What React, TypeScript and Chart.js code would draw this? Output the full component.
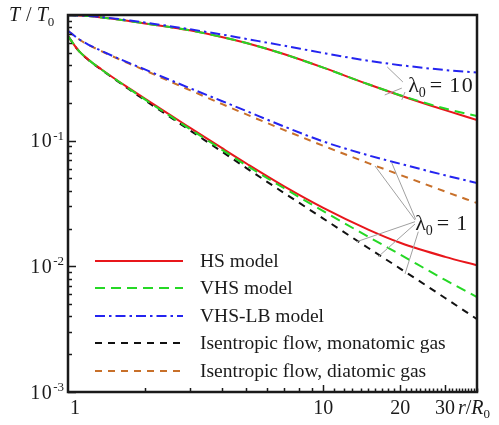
import React, { useEffect, useRef } from 'react';
import { Chart, registerables } from 'chart.js';

Chart.register(...registerables);

// r / R0 sample points
const radius = [1, 1.1, 1.2, 1.35, 1.5, 1.75, 2, 2.5, 3, 4, 5, 7, 10, 15, 20, 30, 40];

// lambda0 = 10
const hsLambda10 = [0.995, 0.99, 0.98, 0.957, 0.932, 0.892, 0.857, 0.802, 0.755, 0.669, 0.598, 0.489, 0.381, 0.281, 0.229, 0.175, 0.146];
const vhsLambda10 = [0.995, 0.99, 0.98, 0.957, 0.932, 0.892, 0.857, 0.802, 0.755, 0.669, 0.598, 0.489, 0.381, 0.281, 0.23, 0.18, 0.157];
const vhslbLambda10 = [0.997, 0.992, 0.983, 0.962, 0.94, 0.903, 0.87, 0.815, 0.77, 0.7, 0.645, 0.57, 0.498, 0.4325, 0.399, 0.365, 0.348];
// lambda0 = 1
const hsLambda1 = [0.68, 0.52, 0.443, 0.37, 0.318, 0.258, 0.216, 0.161, 0.127, 0.0875, 0.0658, 0.0435, 0.0292, 0.0196, 0.0154, 0.0119, 0.0102];
const vhsLambda1 = [0.68, 0.52, 0.442, 0.369, 0.318, 0.256, 0.213, 0.158, 0.124, 0.085, 0.0635, 0.042, 0.0275, 0.0172, 0.0124, 0.0078, 0.0057];
const vhslbLambda1 = [0.75, 0.645, 0.582, 0.519, 0.471, 0.412, 0.369, 0.305, 0.262, 0.207, 0.172, 0.13, 0.0985, 0.0765, 0.0655, 0.053, 0.046];
// isentropic flow
const isentropicMonatomic = [0.68, 0.52, 0.44, 0.367, 0.315, 0.253, 0.21, 0.155, 0.121, 0.082, 0.0605, 0.0385, 0.024, 0.014, 0.0096, 0.0056, 0.0038];
const isentropicDiatomic = [0.75, 0.644, 0.58, 0.516, 0.4675, 0.4076, 0.363, 0.297, 0.2525, 0.196, 0.1617, 0.1219, 0.091, 0.0663, 0.0534, 0.0394, 0.0319];

const legendKeys = ['hs', 'vhs', 'vhslb', 'mono', 'dia'];
const legendLabels = ['HS model', 'VHS model', 'VHS-LB model', 'Isentropic flow, monatomic gas', 'Isentropic flow, diatomic gas'];

const xTickValues = [1, 10, 20, 30];
const xTickLabels = ['1', '10', '20', '30'];
const yTickValues = [0.1, 0.01, 0.001];
const yTickExponents = ['-1', '-2', '-3'];

// leader lines (data coordinates): [fromX, fromY, toX, toY]
const leaders10 = [
  [20.5, 0.293, 17.8, 0.386],
  [20.3, 0.262, 17.4, 0.231],
  [20.9, 0.244, 20.3, 0.211],
];
const leaders1 = [
  [22.87, 0.02336, 15.94, 0.0629],
  [23.0, 0.02367, 18.53, 0.0668],
  [22.87, 0.02266, 13.51, 0.0157],
  [22.87, 0.02172, 16.42, 0.01193],
  [23.56, 0.01886, 20.89, 0.00869],
];
const label10Anchor = [21.5, 0.244];
const label1Anchor = [22.9, 0.0195];

const styles: Record<string, { color: string; dash: number[] }> = {
  hs: { color: '#e8161b', dash: [] },
  vhs: { color: '#25d825', dash: [10, 6] },
  vhslb: { color: '#2424f0', dash: [10, 4, 2.5, 4] },
  mono: { color: '#111111', dash: [7, 6] },
  dia: { color: '#c8702a', dash: [7, 6] },
};

const SERIF = "'Liberation Serif', 'Times New Roman', serif";

const seriesList: [string, number[]][] = [
  ['vhslb', vhslbLambda10],
  ['vhs', vhsLambda10],
  ['hs', hsLambda10],
  ['vhslb', vhslbLambda1],
  ['dia', isentropicDiatomic],
  ['vhs', vhsLambda1],
  ['hs', hsLambda1],
  ['mono', isentropicMonatomic],
];

const overlay = {
  id: 'overlay',
  afterDatasetsDraw(chart: any) {
    const { ctx, chartArea: a, scales } = chart;
    const xs = scales.x;
    const ys = scales.y;
    const px = (v: number) => xs.getPixelForValue(v);
    const py = (v: number) => ys.getPixelForValue(v);
    ctx.save();
    ctx.fillStyle = '#1a1a1a';
    ctx.strokeStyle = '#1a1a1a';

    // y ticks
    ctx.lineWidth = 1.5;
    for (let d = -3; d <= 0; d++) {
      for (let m = 1; m < 10; m++) {
        const v = m * Math.pow(10, d);
        if (v > 1.0001) break;
        const y = Math.round(py(v)) + 0.5;
        const len = m === 1 ? 8 : 4;
        ctx.beginPath();
        ctx.moveTo(a.left, y);
        ctx.lineTo(a.left + len, y);
        ctx.stroke();
      }
    }
    // x ticks
    for (let v = 2; v <= 40; v++) {
      const x = Math.round(px(v)) + 0.5;
      const major = v === 10 || v === 20 || v === 30;
      const len = major ? 7 : v < 10 ? 4 : 3.5;
      ctx.beginPath();
      ctx.moveTo(x, a.bottom);
      ctx.lineTo(x, a.bottom - len);
      ctx.stroke();
    }

    // frame
    ctx.lineWidth = 2.5;
    ctx.strokeRect(a.left, a.top, a.right - a.left, a.bottom - a.top);

    // y tick labels
    ctx.textAlign = 'left';
    ctx.textBaseline = 'alphabetic';
    yTickValues.forEach((v, i) => {
      const y = py(v);
      const right = 64;
      ctx.letterSpacing = '0px';
      ctx.font = `13px ${SERIF}`;
      const ew = ctx.measureText(yTickExponents[i]).width;
      ctx.font = `20px ${SERIF}`;
      ctx.letterSpacing = '1.5px';
      const bw = ctx.measureText('10').width;
      ctx.fillText('10', right - ew - bw, y + 6.5);
      ctx.letterSpacing = '0px';
      ctx.font = `13px ${SERIF}`;
      ctx.fillText(yTickExponents[i], right - ew, y - 1);
    });

    // x tick labels
    ctx.font = `20px ${SERIF}`;
    ctx.letterSpacing = '0px';
    ctx.textAlign = 'center';
    xTickValues.forEach((v, i) => {
      const x = px(v) + (i === 0 ? 7 : 0);
      ctx.fillText(xTickLabels[i], x, a.bottom + 22);
    });

    // x axis title r/R0
    ctx.textAlign = 'left';
    ctx.font = `italic 20px ${SERIF}`;
    const rx = 458;
    const rb = a.bottom + 22;
    ctx.fillText('r', rx, rb);
    let w = ctx.measureText('r').width;
    ctx.font = `20px ${SERIF}`;
    ctx.fillText('/', rx + w, rb);
    w += ctx.measureText('/').width;
    ctx.font = `italic 20px ${SERIF}`;
    ctx.fillText('R', rx + w, rb);
    w += ctx.measureText('R').width;
    ctx.font = `13px ${SERIF}`;
    ctx.fillText('0', rx + w, rb + 4);

    // y axis title T / T0
    const tx = 9;
    const tb = 21;
    ctx.font = `italic 20px ${SERIF}`;
    ctx.fillText('T', tx, tb);
    let tw = ctx.measureText('T').width + 6;
    ctx.font = `20px ${SERIF}`;
    ctx.fillText('/', tx + tw, tb);
    tw += ctx.measureText('/').width + 5;
    ctx.font = `italic 20px ${SERIF}`;
    ctx.fillText('T', tx + tw, tb);
    tw += ctx.measureText('T').width;
    ctx.font = `13px ${SERIF}`;
    ctx.fillText('0', tx + tw, tb + 5);

    // leader lines
    ctx.strokeStyle = '#a0a0a0';
    ctx.lineWidth = 1;
    [...leaders10, ...leaders1].forEach(([x1, y1, x2, y2]) => {
      ctx.beginPath();
      ctx.moveTo(px(x1), py(y1));
      ctx.lineTo(px(x2), py(y2));
      ctx.stroke();
    });

    // lambda labels
    const drawLambda = (anchor: number[], value: string) => {
      const x = px(anchor[0]);
      const y = py(anchor[1]);
      ctx.fillStyle = '#1a1a1a';
      ctx.font = `22px ${SERIF}`;
      ctx.fillText('\u03bb', x, y);
      const lw = ctx.measureText('\u03bb').width;
      ctx.font = `14px ${SERIF}`;
      ctx.fillText('0', x + lw, y + 5);
      const sw = ctx.measureText('0').width;
      ctx.font = `22px ${SERIF}`;
      const ex = x + lw + sw + 4;
      ctx.fillText('=', ex, y);
      const eqw = ctx.measureText('=').width;
      ctx.letterSpacing = '1.5px';
      ctx.fillText(value, ex + eqw + 7, y);
      ctx.letterSpacing = '0px';
    };
    drawLambda(label10Anchor, '10');
    drawLambda(label1Anchor, '1');

    // legend
    const rows = [261, 288, 316, 343, 371];
    legendKeys.forEach((k, i) => {
      const st = styles[k];
      ctx.strokeStyle = st.color;
      ctx.lineWidth = 2;
      ctx.setLineDash(st.dash);
      ctx.beginPath();
      ctx.moveTo(95, rows[i]);
      ctx.lineTo(183, rows[i]);
      ctx.stroke();
      ctx.setLineDash([]);
      ctx.fillStyle = '#1a1a1a';
      ctx.font = `19.5px ${SERIF}`;
      ctx.textAlign = 'left';
      ctx.fillText(legendLabels[i], 200, rows[i] + 6);
    });

    ctx.restore();
  },
};

export default function App() {
  const ref = useRef<HTMLCanvasElement>(null);
  useEffect(() => {
    document.body.style.margin = '0';
    const canvas = ref.current!;
    const datasets = seriesList.map(([key, values]) => ({
      label: key,
      data: radius.map((r, i) => ({ x: r, y: values[i] })),
      borderColor: styles[key].color,
      borderDash: styles[key].dash,
      borderWidth: 2,
      pointRadius: 0,
      fill: false,
      cubicInterpolationMode: 'monotone' as const,
    }));
    const chart = new Chart(canvas, {
      type: 'line',
      data: { datasets },
      options: {
        animation: false,
        responsive: false,
        devicePixelRatio: 1,
        layout: { padding: { left: 68, top: 15, right: 22, bottom: 33 } },
        scales: {
          x: { type: 'logarithmic', min: 1, max: 40, display: false },
          y: { type: 'logarithmic', min: 0.001, max: 1, display: false },
        },
        plugins: { legend: { display: false }, tooltip: { enabled: false } },
      },
      plugins: [overlay],
    });
    return () => chart.destroy();
  }, []);
  return <canvas ref={ref} width={499} height={425} style={{ display: 'block' }} />;
}
